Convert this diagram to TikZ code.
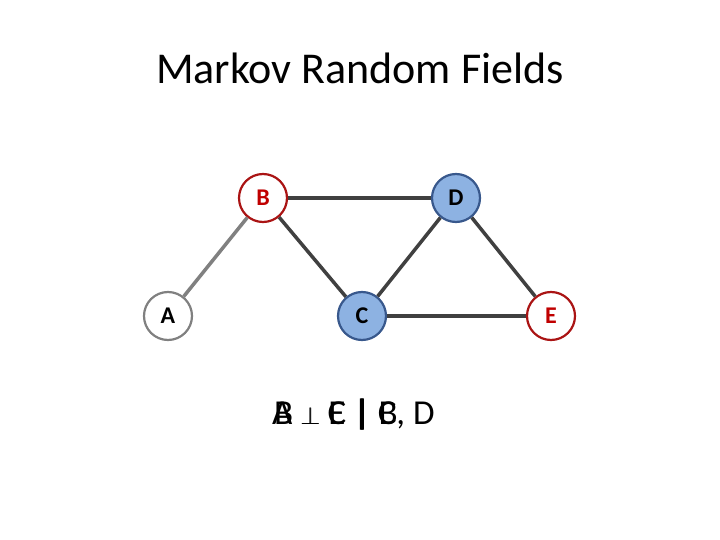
\documentclass[tikz,border=0pt]{standalone}
\usepackage{fontspec}
\setmainfont{Carlito}
\definecolor{nfill}{RGB}{141,178,226}
\definecolor{nbord}{RGB}{56,88,140}
\definecolor{nred}{RGB}{192,0,0}
\definecolor{bred}{RGB}{170,20,20}
\begin{document}
\begin{tikzpicture}[x=1pt,y=-1pt,
 nd/.style={circle,minimum size=48pt,inner sep=0pt,line width=2.2pt,font=\fontsize{24}{24}\selectfont\bfseries},
 red/.style={nd,draw=bred,fill=white,text=nred},
 blu/.style={nd,draw=nbord,fill=nfill,text=black},
 gry/.style={nd,draw=gray,fill=white,text=black},
 ed/.style={line width=3.5pt,draw=black!75},
 bt/.style={anchor=base west,inner sep=0pt,font=\fontsize{35}{35}\selectfont}]
\useasboundingbox (0,0) rectangle (720,540);
\node[font=\fontsize{44}{44}\selectfont] (t) at (360,68) {Markov Random Fields};
\node[red] (B) at (263,198) {B};
\node[blu] (D) at (456,198) {D};
\node[gry] (A) at (168,316) {A};
\node[blu] (C) at (362,316) {C};
\node[red] (E) at (551,316) {E};
\draw[line width=3.5pt,gray] (A) -- (B);
\draw[ed] (B) -- (D);
\draw[ed] (B) -- (C);
\draw[ed] (C) -- (D);
\draw[ed] (D) -- (E);
\draw[ed] (C) -- (E);
\node[bt] (l1) at (272,424) {A $\perp$ C {\bfseries|} B};
\node[bt] (l2) at (274,424) {B $\perp$ E {\bfseries|} C, D};
\end{tikzpicture}
\end{document}
